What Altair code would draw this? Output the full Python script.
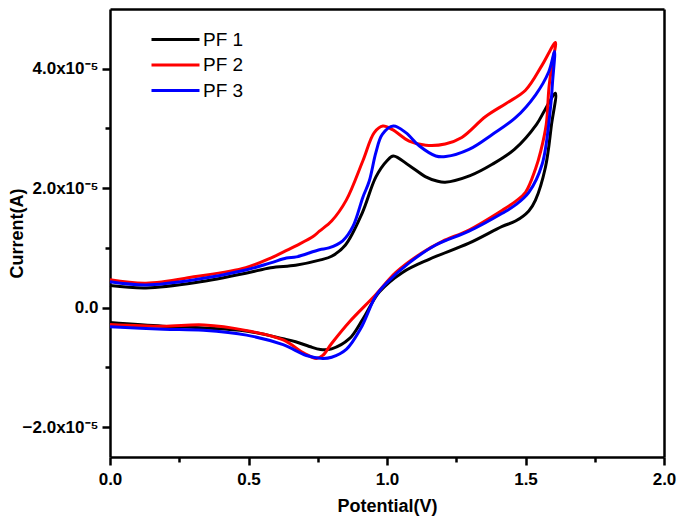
import altair as alt
import pandas as pd

# Potential (V) and current (units of 1e-5 A), traced as forward then reverse scan
pf1_v = [0.00, 0.13, 0.31, 0.49, 0.58, 0.67, 0.76, 0.80, 0.85, 0.91, 0.96, 1.00, 1.023, 1.08, 1.14, 1.18, 1.21, 1.30, 1.38, 1.46, 1.54, 1.57, 1.608,
         1.594, 1.572, 1.536, 1.512, 1.464, 1.416, 1.296, 1.152, 1.056, 0.972, 0.913, 0.864, 0.80, 0.76, 0.72, 0.67, 0.625, 0.49, 0.34, 0.19, 0.0]
pf1_i = [0.37, 0.33, 0.42, 0.575, 0.67, 0.71, 0.80, 0.86, 1.05, 1.58, 2.19, 2.46, 2.54, 2.38, 2.19, 2.12, 2.10, 2.21, 2.40, 2.65, 3.07, 3.31, 3.59,
         3.07, 2.35, 1.80, 1.62, 1.45, 1.36, 1.08, 0.81, 0.59, 0.26, -0.19, -0.52, -0.69, -0.70, -0.65, -0.57, -0.52, -0.39, -0.34, -0.31, -0.25]

pf2_v = [0.00, 0.13, 0.31, 0.49, 0.58, 0.625, 0.673, 0.733, 0.756, 0.80, 0.853, 0.913, 0.954, 0.985, 1.02, 1.08, 1.14, 1.21, 1.27, 1.356, 1.43, 1.50, 1.56, 1.608,
         1.597, 1.585, 1.575, 1.555, 1.536, 1.50, 1.464, 1.416, 1.296, 1.20, 1.127, 1.032, 0.96, 0.864, 0.80, 0.768, 0.745, 0.70, 0.625, 0.49, 0.34, 0.19, 0.0]
pf2_i = [0.466, 0.41, 0.52, 0.67, 0.83, 0.93, 1.04, 1.19, 1.28, 1.45, 1.80, 2.46, 2.93, 3.04, 2.98, 2.79, 2.72, 2.74, 2.85, 3.20, 3.42, 3.64, 4.06, 4.44,
         4.10, 3.70, 3.07, 2.62, 2.32, 1.93, 1.78, 1.63, 1.30, 1.11, 0.92, 0.59, 0.22, -0.24, -0.60, -0.80, -0.85, -0.76, -0.54, -0.38, -0.29, -0.31, -0.28]

pf3_v = [0.00, 0.13, 0.31, 0.49, 0.58, 0.637, 0.673, 0.756, 0.79, 0.84, 0.877, 0.913, 0.936, 0.96, 0.983, 1.023, 1.068, 1.116, 1.176, 1.212, 1.296, 1.38, 1.464, 1.536, 1.584, 1.605,
         1.598, 1.59, 1.56, 1.512, 1.464, 1.416, 1.296, 1.176, 1.08, 1.00, 0.96, 0.905, 0.853, 0.80, 0.768, 0.709, 0.625, 0.493, 0.337, 0.193, 0.0]
pf3_i = [0.433, 0.38, 0.47, 0.63, 0.75, 0.83, 0.85, 0.97, 1.00, 1.12, 1.36, 1.85, 2.12, 2.60, 2.90, 3.04, 2.93, 2.71, 2.54, 2.53, 2.65, 2.90, 3.18, 3.56, 3.95, 4.29,
         3.80, 3.34, 2.40, 1.93, 1.72, 1.58, 1.28, 1.05, 0.75, 0.42, 0.20, -0.35, -0.70, -0.83, -0.85, -0.80, -0.62, -0.46, -0.38, -0.36, -0.32]

series_names = ["PF 1", "PF 2", "PF 3"]
series_colors = ["#000000", "#ff0000", "#0000ff"]

x_major = [0.0, 0.5, 1.0, 1.5, 2.0]
x_minor = [0.25, 0.75, 1.25, 1.75]
y_major = [-2e-5, 0.0, 2e-5, 4e-5]
y_minor = [-1e-5, 1e-5, 3e-5]

rows = []
for name, vs, cs in zip(series_names, [pf1_v, pf2_v, pf3_v], [pf1_i, pf2_i, pf3_i]):
    for k, (v, c) in enumerate(zip(vs, cs)):
        rows.append({"series": name, "order": k, "potential": v, "current": c * 1e-5})
df = pd.DataFrame(rows)

FONT = "Liberation Sans"
FW = 2.5

xscale = alt.Scale(domain=[0, 2], nice=False)
yscale = alt.Scale(domain=[-2.5e-5, 5e-5], nice=False)

main = alt.Chart(df).mark_line(strokeWidth=3, interpolate="catmull-rom").encode(
    x=alt.X("potential:Q", scale=xscale,
            axis=alt.Axis(orient="bottom", values=x_major, format=".1f", title="Potential(V)",
                          grid=False, domain=True, domainColor="black", domainWidth=FW,
                          tickSize=8, tickWidth=FW, tickColor="black", labelFlush=False,
                          labelFont=FONT, labelFontSize=17, labelFontWeight="bold", labelColor="black",
                          labelPadding=6, titleFont=FONT, titleFontSize=18, titleFontWeight="bold",
                          titleColor="black", titlePadding=10)),
    y=alt.Y("current:Q", scale=yscale,
            axis=alt.Axis(orient="left", values=y_major, title="Current(A)",
                          labelExpr="datum.value == 0 ? '0.0' : format(datum.value * 1e5, '.1f') + 'x10⁻⁵'",
                          grid=False, domain=True, domainColor="black", domainWidth=FW,
                          tickSize=8, tickWidth=FW, tickColor="black", labelFlush=False,
                          labelFont=FONT, labelFontSize=17, labelFontWeight="bold", labelColor="black",
                          labelPadding=4, titleFont=FONT, titleFontSize=18, titleFontWeight="bold",
                          titleColor="black", titleBaseline="bottom", titleX=-84)),
    color=alt.Color("series:N", scale=alt.Scale(domain=series_names, range=series_colors),
                    legend=alt.Legend(title=None, orient="none", legendX=54, legendY=19,
                                      symbolType="M-2.4,0H2.4", symbolSize=400, symbolStrokeWidth=3,
                                      labelFont=FONT, labelFontSize=19, labelColor="black",
                                      rowPadding=3.5, labelOffset=16, padding=0)),
    order="order:Q",
)

minor = alt.Chart(df).mark_line(strokeOpacity=0).encode(
    x=alt.X("potential:Q", scale=xscale,
            axis=alt.Axis(orient="bottom", values=x_minor, labels=False, title=None, grid=False,
                          domain=False, tickSize=5, tickWidth=FW, tickColor="black")),
    y=alt.Y("current:Q", scale=yscale,
            axis=alt.Axis(orient="left", values=y_minor, labels=False, title=None, grid=False,
                          domain=False, tickSize=5, tickWidth=FW, tickColor="black")),
    detail="series:N",
    order="order:Q",
)

frame = alt.Chart(df).mark_line(strokeOpacity=0).encode(
    x=alt.X("potential:Q", scale=xscale,
            axis=alt.Axis(orient="top", labels=False, ticks=False, title=None, grid=False,
                          domain=True, domainColor="black", domainWidth=FW)),
    y=alt.Y("current:Q", scale=yscale,
            axis=alt.Axis(orient="right", labels=False, ticks=False, title=None, grid=False,
                          domain=True, domainColor="black", domainWidth=FW)),
    detail="series:N",
    order="order:Q",
)

chart = alt.layer(main, minor, frame).resolve_axis(x="independent", y="independent").properties(
    width=554, height=448,
    autosize=alt.AutoSizeParams(type="none"),
    padding={"left": 102, "top": 1, "right": 13, "bottom": 59},
    background="white",
).configure_view(stroke=None)

chart.save("out.html", embed_options={"renderer": "svg", "actions": False})
